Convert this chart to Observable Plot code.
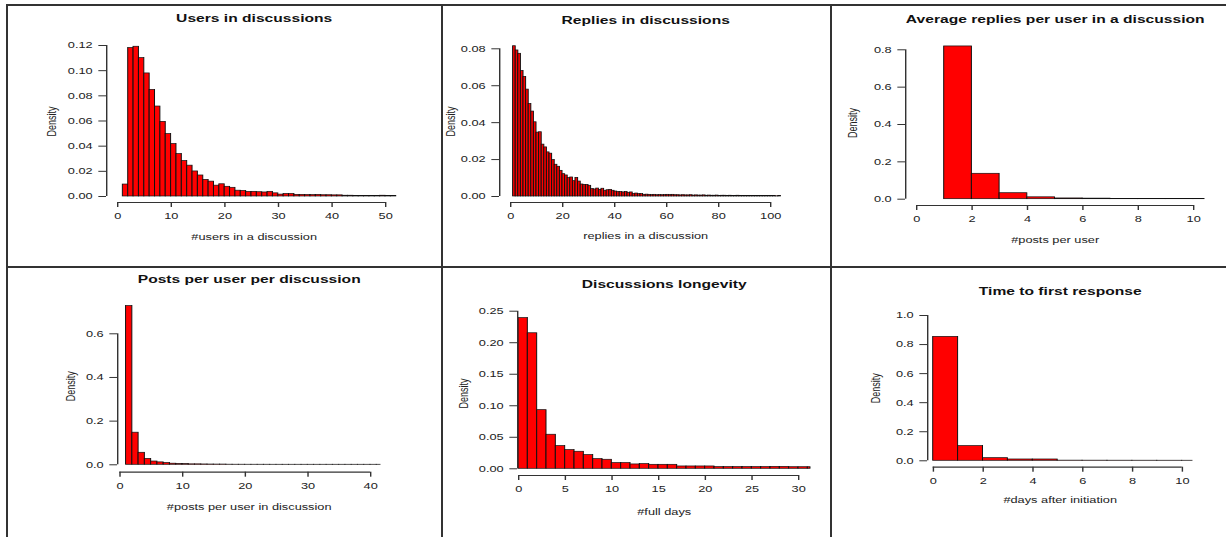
<!DOCTYPE html>
<html><head><meta charset="utf-8">
<script src="https://cdn.jsdelivr.net/npm/d3@7"></script>
<script src="https://cdn.jsdelivr.net/npm/@observablehq/plot@0.6"></script>
<style>
html,body{margin:0;padding:0;background:#fff;}
#page{position:relative;width:1226px;height:537px;overflow:hidden;font-family:"Liberation Sans",Arial,sans-serif;}
.cell{position:absolute;overflow:visible;}
.cell svg{transform:scaleX(1.42);transform-origin:0 0;display:block;overflow:visible;}
.ln{position:absolute;background:#333;}
</style></head><body><div id="page"></div>
<script>
// ---------------- DATA ----------------
const titles = ["Users in discussions", "Replies in discussions", "Average replies per user in a discussion",
  "Posts per user per discussion", "Discussions longevity", "Time to first response"];
const xLabels = ["#users in a discussion", "replies in a discussion", "#posts per user",
  "#posts per user in discussion", "#full days", "#days after initiation"];

// histogram densities (bins of width 1, first bin starts at *Start)
const usersStart = 1;
const usersDensity = [0.0095, 0.118, 0.119, 0.110, 0.0978, 0.0847, 0.0715, 0.0593, 0.0496, 0.0417,
  0.0337, 0.0282, 0.0245, 0.0199, 0.0167, 0.0132, 0.0118, 0.0086, 0.0097, 0.0077,
  0.0069, 0.0046, 0.0044, 0.0036, 0.0037, 0.0034, 0.0032, 0.0037, 0.0025, 0.0015,
  0.0020, 0.0020, 0.0013, 0.0013, 0.0012, 0.0011, 0.0013, 0.0010, 0.0010, 0.0009,
  0.0009, 0.0006, 0.0006, 0.0005, 0.0005, 0.0005, 0.0004, 0.0004, 0.0006, 0.0003, 0.0003];
const usersXTicks = [0, 10, 20, 30, 40, 50];
const usersYTicks = [0, 0.02, 0.04, 0.06, 0.08, 0.10, 0.12];

const repliesStart = 1;
const repliesDensity = [0.0814, 0.0791, 0.0773, 0.0680, 0.0648, 0.0579, 0.0501, 0.0460, 0.0402, 0.0346,
  0.0348, 0.0281, 0.0266, 0.0239, 0.0232, 0.0197, 0.0172, 0.0161, 0.0139, 0.0121,
  0.0114, 0.0100, 0.0103, 0.0083, 0.0101, 0.0081, 0.0065, 0.0063, 0.0063, 0.0058,
  0.0040, 0.0038, 0.0043, 0.0036, 0.0042, 0.0031, 0.0034, 0.0036, 0.0031, 0.0027,
  0.0024, 0.0024, 0.0022, 0.0025, 0.0020, 0.0022, 0.0014, 0.0016, 0.0013, 0.0013,
  0.0009, 0.0010, 0.0009, 0.0008, 0.0009, 0.0007, 0.0008, 0.0007, 0.0008, 0.0009,
  0.0008, 0.0009, 0.0007, 0.0007, 0.0006, 0.0007, 0.0006, 0.0006, 0.0007, 0.0005,
  0.0006, 0.0005, 0.0005, 0.0006, 0.0004, 0.0005, 0.0004, 0.0004, 0.0005, 0.0003,
  0.0004, 0.0004, 0.0003, 0.0004, 0.0003, 0.0003, 0.0004, 0.0003, 0.0003, 0.0002,
  0.0003, 0.0003, 0.0002, 0.0003, 0.0002, 0.0002, 0.0003, 0.0002, 0.0002, 0.0002,
  0.0002, 0.0001, 0.0002];
const repliesXTicks = [0, 20, 40, 60, 80, 100];
const repliesYTicks = [0, 0.02, 0.04, 0.06, 0.08];

const avgStart = 1;
const avgDensity = [0.818, 0.136, 0.032, 0.010, 0.004, 0.003, 0.001, 0.0008, 0.0006, 0.0005];
const avgXTicks = [0, 2, 4, 6, 8, 10];
const avgYTicks = [0, 0.2, 0.4, 0.6, 0.8];

const postsStart = 1;
const postsDensity = [0.727, 0.147, 0.055, 0.027, 0.015, 0.011, 0.008, 0.005, 0.004, 0.003,
  0.002, 0.002, 0.0015, 0.0012, 0.001, 0.001, 0.0004, 0.0003, 0.0003, 0.0002,
  0.0002, 0.0002, 0.0002, 0.0001, 0.0001, 0.0001, 0.0001, 0.0001, 0.0001, 0.0001,
  0.0001, 0.0001, 0.0001, 0.0001, 0.0001, 0.0001, 0.0001, 0.0001, 0.0001, 0.0001, 0.0001];
const postsXTicks = [0, 10, 20, 30, 40];
const postsYTicks = [0, 0.2, 0.4, 0.6];

const longevityStart = 0;
const longevityDensity = [0.239, 0.215, 0.093, 0.054, 0.036, 0.0296, 0.027, 0.0217, 0.0153, 0.0143,
  0.009, 0.009, 0.0069, 0.0074, 0.0063, 0.0063, 0.0063, 0.0037, 0.0037, 0.0037,
  0.0037, 0.0026, 0.0026, 0.0026, 0.0026, 0.0026, 0.0026, 0.003, 0.003, 0.0025,
  0.0025, 0.0025];
const longevityXTicks = [0, 5, 10, 15, 20, 25, 30];
const longevityYTicks = [0, 0.05, 0.10, 0.15, 0.20, 0.25];

const responseStart = 0;
const responseDensity = [0.853, 0.101, 0.018, 0.009, 0.009, 0.001, 0.0008, 0.0006, 0.0005, 0.0004, 0.0003];
const responseXTicks = [0, 2, 4, 6, 8, 10];
const responseYTicks = [0, 0.2, 0.4, 0.6, 0.8, 1.0];

// ---------------- LAYOUT (page pixels) ----------------
const S = 1.42; // horizontal stretch of the original figure
const layouts = [
  {cx: 7, cy: 5, cw: 435, ch: 261, L: 106, R: 401, T: 40, B: 202, xa: 0, pxa: 117, xb: 50, pxb: 385, py0: 196, yc: 0.12, pyc: 45, titleY: 18, xlabY: 237, ylabX: 51, fmt: ".2f"},
  {cx: 442, cy: 5, cw: 389, ch: 261, L: 499, R: 791, T: 40, B: 202, xa: 0, pxa: 510, xb: 100, pxb: 770, py0: 196, yc: 0.08, pyc: 48.3, titleY: 20, xlabY: 236, ylabX: 450, fmt: ".2f"},
  {cx: 831, cy: 5, cw: 395, ch: 261, L: 905, R: 1204, T: 40, B: 205, xa: 0, pxa: 916, xb: 10, pxb: 1193, py0: 198.7, yc: 0.8, pyc: 49.3, titleY: 19.3, xlabY: 239.3, ylabX: 851.7, fmt: ".1f"},
  {cx: 7, cy: 266, cw: 435, ch: 271, L: 117, R: 380, T: 300, B: 471.7, xa: 0, pxa: 119.3, xb: 40, pxb: 370, py0: 464.3, yc: 0.6, pyc: 333.3, titleY: 279, xlabY: 506.7, ylabX: 70, fmt: ".1f"},
  {cx: 442, cy: 266, cw: 389, ch: 271, L: 517, R: 810, T: 311, B: 475, xa: 0, pxa: 518, xb: 30, pxb: 798, py0: 468.3, yc: 0.25, pyc: 310.7, titleY: 284, xlabY: 511.7, ylabX: 463.3, fmt: ".2f"},
  {cx: 831, cy: 266, cw: 395, ch: 271, L: 927, R: 1192, T: 309, B: 466.7, xa: 0, pxa: 932.7, xb: 10, pxb: 1181.7, py0: 460.3, yc: 1.0, pyc: 315, titleY: 290.7, xlabY: 500, ylabX: 875, fmt: ".1f"}
];

const series = [
  [usersStart, usersDensity, usersXTicks, usersYTicks],
  [repliesStart, repliesDensity, repliesXTicks, repliesYTicks],
  [avgStart, avgDensity, avgXTicks, avgYTicks],
  [postsStart, postsDensity, postsXTicks, postsYTicks],
  [longevityStart, longevityDensity, longevityXTicks, longevityYTicks],
  [responseStart, responseDensity, responseXTicks, responseYTicks]
];

const page = document.getElementById("page");
const FONT = "'Liberation Sans', Arial, Helvetica, sans-serif";

layouts.forEach((g, i) => {
  const [start, dens, xTicks, yTicks] = series[i];
  const kx = (g.pxb - g.pxa) / (g.xb - g.xa);
  const xMin = g.xa - (g.pxa - g.L) / kx;
  const xMax = g.xa + (g.R - g.pxa) / kx;
  const ky = (g.py0 - g.pyc) / g.yc;
  const yMin = -(g.B - g.py0) / ky;
  const yMax = (g.py0 - g.T) / ky;
  const bins = dens.map((d, j) => ({lo: start + j, hi: Math.min(start + j + 1, xMax), d}))
    .filter(b => b.lo < xMax);
  const fmt = d3.format(g.fmt);

  const chart = Plot.plot({
    width: g.cw / S,
    height: g.ch,
    marginLeft: (g.L - g.cx) / S,
    marginRight: (g.cx + g.cw - g.R) / S,
    marginTop: g.T - g.cy,
    marginBottom: g.cy + g.ch - g.B,
    x: {domain: [xMin, xMax], axis: null},
    y: {domain: [yMin, yMax], axis: null},
    style: {fontFamily: FONT, fontSize: "9px", color: "#222", background: "transparent", overflow: "visible"},
    marks: [
      Plot.rect(bins, {x1: "lo", x2: "hi", y1: 0, y2: "d", fill: "#ff0000", stroke: "#111", strokeWidth: 0.7}),
      Plot.ruleX([xMin], {y1: yTicks[0], y2: yTicks[yTicks.length - 1], stroke: "#333", strokeWidth: 1}),
      Plot.ruleY([yMin], {x1: xTicks[0], x2: xTicks[xTicks.length - 1], stroke: "#333", strokeWidth: 1.2}),
      Plot.axisY(yTicks, {anchor: "left", tickSize: 5.4, tickPadding: 4.5, tickFormat: fmt, label: null, stroke: "#333", fill: "#222", fontSize: 9}),
      Plot.axisX(xTicks, {anchor: "bottom", tickSize: 5, tickPadding: 5, tickFormat: d => String(d), label: null, stroke: "#333", fill: "#222", fontSize: 9}),
      Plot.text([titles[i]], {frameAnchor: "top", dy: g.titleY - g.T, lineAnchor: "middle", fontWeight: "bold", fontSize: 11, fill: "#111"}),
      Plot.text([xLabels[i]], {frameAnchor: "bottom", dy: g.xlabY - g.B, lineAnchor: "middle", fontSize: 9, fill: "#222"}),
      Plot.text(["Density"], {frameAnchor: "left", dx: (g.ylabX - g.L) / S, rotate: -90, textAnchor: "middle", lineAnchor: "middle", fontSize: 9, fill: "#222"})
    ]
  });
  const cell = document.createElement("div");
  cell.className = "cell";
  cell.style.left = g.cx + "px";
  cell.style.top = g.cy + "px";
  cell.style.width = g.cw + "px";
  cell.style.height = g.ch + "px";
  cell.appendChild(chart);
  page.appendChild(cell);
});

// table borders
function line(x, y, w, h) {
  const d = document.createElement("div");
  d.className = "ln";
  Object.assign(d.style, {left: x + "px", top: y + "px", width: w + "px", height: h + "px"});
  page.appendChild(d);
}
line(7, 4, 1219, 2);
line(6, 4, 2, 533);
line(441, 4, 2, 533);
line(830, 4, 2, 533);
line(7, 266, 1219, 2);
</script></body></html>
